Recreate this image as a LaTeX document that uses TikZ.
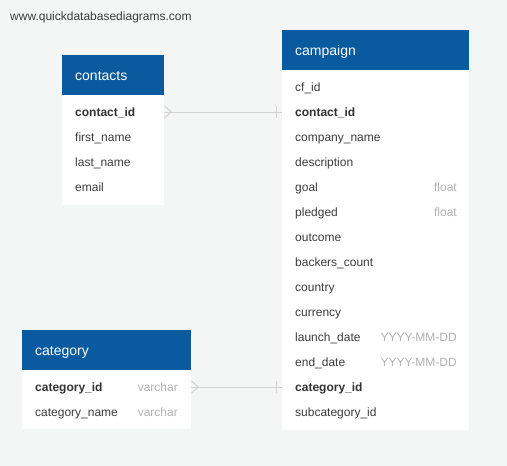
\documentclass[tikz,border=0pt]{standalone}
\usepackage{fontspec}
\setmainfont{Liberation Sans}
\usetikzlibrary{calc}
\definecolor{bgc}{HTML}{F4F5F5}
\definecolor{hdr}{HTML}{0A5AA0}
\definecolor{fld}{HTML}{3C3C3C}
\definecolor{keyc}{HTML}{333333}
\definecolor{typc}{HTML}{B2B2B2}
\definecolor{lnc}{HTML}{D2D2D2}
\begin{document}
\begin{tikzpicture}[x=1pt,y=-1pt,
  header/.style={fill=hdr,text=white,inner xsep=13pt,inner ysep=0pt,minimum height=40pt,text height=11pt,text depth=1pt,anchor=north west,align=left,font=\fontsize{14}{16}\selectfont},
  row/.style={inner xsep=13pt,inner ysep=0pt,minimum height=25pt,text height=9pt,text depth=1pt,anchor=west,align=left,text=fld,font=\fontsize{12}{14}\selectfont},
  keyrow/.style={row,text=keyc,font=\fontsize{12}{14}\selectfont\bfseries},
  typ/.style={inner sep=0pt,text height=9pt,text depth=1pt,anchor=east,text=typc,font=\fontsize{12}{14}\selectfont},
  conn/.style={draw=lnc,line width=1pt},
]
\fill[bgc] (0,0) rectangle (507,466);
\useasboundingbox (0,0) rectangle (507,466);

\node[inner sep=0pt,anchor=west,text height=9pt,text depth=1pt,text=fld,font=\fontsize{12}{14}\selectfont] (site) at (10,16) {www.quickdatabasediagrams.com};

% contacts
\fill[white] (62,95) rectangle (164,205);
\node[header,text width=76pt] (contacts) at (62,55) {contacts};
\node[keyrow,text width=76pt] (ct-cid) at (62,112) {contact\_id};
\node[row,text width=76pt] (ct-fn) at (62,137) {first\_name};
\node[row,text width=76pt] (ct-ln) at (62,162) {last\_name};
\node[row,text width=76pt] (ct-em) at (62,187) {email};

% campaign
\fill[white] (282,70) rectangle (469,430);
\node[header,text width=161pt] (campaign) at (282,30) {campaign};
\node[row,text width=161pt] (cp-cf) at (282,87) {cf\_id};
\node[keyrow,text width=161pt] (cp-cid) at (282,112) {contact\_id};
\node[row,text width=161pt] (cp-cn) at (282,137) {company\_name};
\node[row,text width=161pt] (cp-de) at (282,162) {description};
\node[row,text width=161pt] (cp-go) at (282,187) {goal};
\node[typ] (cp-go-t) at (457,187) {float};
\node[row,text width=161pt] (cp-pl) at (282,212) {pledged};
\node[typ] (cp-pl-t) at (457,212) {float};
\node[row,text width=161pt] (cp-ou) at (282,237) {outcome};
\node[row,text width=161pt] (cp-bc) at (282,262) {backers\_count};
\node[row,text width=161pt] (cp-co) at (282,287) {country};
\node[row,text width=161pt] (cp-cu) at (282,312) {currency};
\node[row,text width=161pt] (cp-ld) at (282,337) {launch\_date};
\node[typ] (cp-ld-t) at (457,337) {YYYY-MM-DD};
\node[row,text width=161pt] (cp-ed) at (282,362) {end\_date};
\node[typ] (cp-ed-t) at (457,362) {YYYY-MM-DD};
\node[keyrow,text width=161pt] (cp-cat) at (282,387) {category\_id};
\node[row,text width=161pt] (cp-sub) at (282,412) {subcategory\_id};

% category
\fill[white] (22,370) rectangle (191,429);
\node[header,text width=143pt] (category) at (22,330) {category};
\node[keyrow,text width=143pt] (cg-cid) at (22,387) {category\_id};
\node[typ] (cg-cid-t) at (178,387) {varchar};
\node[row,text width=143pt] (cg-cn) at (22,412) {category\_name};
\node[typ] (cg-cn-t) at (178,412) {varchar};

% connectors
\draw[conn] (ct-cid.east) -- (cp-cid.west);
\draw[conn] ($(ct-cid.east)+(0,-6)$) -- ($(ct-cid.east)+(7,0)$) -- ($(ct-cid.east)+(0,6)$);
\draw[conn] ($(cp-cid.west)+(-6,-6)$) -- ($(cp-cid.west)+(-6,6)$);

\draw[conn] (cg-cid.east) -- (cp-cat.west);
\draw[conn] ($(cg-cid.east)+(0,-6)$) -- ($(cg-cid.east)+(7,0)$) -- ($(cg-cid.east)+(0,6)$);
\draw[conn] ($(cp-cat.west)+(-6,-6)$) -- ($(cp-cat.west)+(-6,6)$);
\end{tikzpicture}
\end{document}
